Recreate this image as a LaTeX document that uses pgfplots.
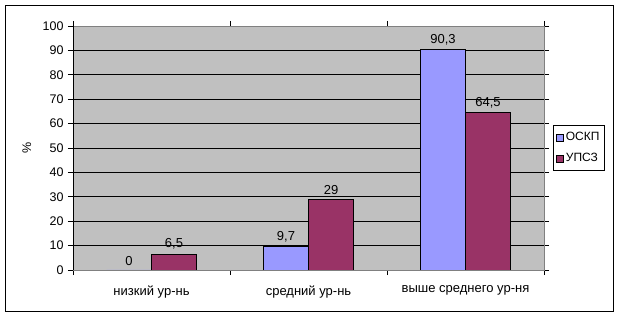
\documentclass[border=0pt]{standalone}
\usepackage{pgfplots}
\pgfplotsset{compat=1.18}
\usepackage{fontspec}
\setmainfont{Liberation Sans}
\definecolor{barblue}{HTML}{9999FF}
\definecolor{barred}{HTML}{993366}
\definecolor{plotgray}{HTML}{C0C0C0}
\begin{document}
\begin{tikzpicture}
\path (0pt,0pt) rectangle (620pt,318pt);
\draw[black, line width=1pt] (5pt,6pt) rectangle (613pt,312pt);
\begin{axis}[
  at={(73pt,48pt)}, anchor=south west,
  scale only axis, width=471pt, height=244pt,
  xmin=-0.5, xmax=2.5, ymin=0, ymax=100,
  ytick={0,10,...,100},
  xtick={0,1,2},
  xticklabels={низкий ур-нь, средний ур-нь, выше среднего ур-ня},
  minor xtick={-0.5,0.5,1.5,2.5},
  major x tick style={draw=none},
  minor x tick style={black, line width=0.8pt},
  y tick style={black, line width=0.8pt},
  tick align=outside,
  major tick length=5pt, minor tick length=5pt,
  ymajorgrids,
  grid style={black, line width=0.8pt},
  axis background/.style={fill=plotgray},
  axis line style={draw=gray, line width=0.8pt},
  ybar=0pt, bar width=45pt,
  yticklabel style={font=\fontsize{12.5}{14}\selectfont, /pgf/number format/assume math mode=true, xshift=-1pt},
  xticklabel style={font=\fontsize{13}{15}\selectfont, yshift=-7pt},
  ylabel={\%}, ylabel style={font=\fontsize{12.5}{14}\selectfont, at={(axis description cs:-0.098,0.5)}, anchor=center},
  nodes near coords={\pgfmathprintnumber[assume math mode=true, use comma]{\pgfplotspointmeta}},
  every node near coord/.append style={font=\fontsize{13}{15}\selectfont, black, yshift=1pt},
  legend style={at={(1,0.5)}, anchor=west, xshift=9pt, draw=black, line width=0.8pt,
    font=\fontsize{12}{14}\selectfont, inner xsep=3pt, inner ysep=5pt, row sep=7pt,
    cells={anchor=west}},
  legend image code/.code={\draw[#1, draw=black, line width=0.5pt] (0pt,-3.5pt) rectangle (7pt,3.5pt);},
]
\addplot[fill=barblue, draw=black, line width=0.6pt] coordinates {(0,0) (1,9.7) (2,90.3)};
\addplot[fill=barred, draw=black, line width=0.6pt] coordinates {(0,6.5) (1,29) (2,64.5)};
\legend{ОСКП, УПСЗ}
\draw[black, line width=0.8pt] (rel axis cs:0,1) -- (rel axis cs:0,0) -- (rel axis cs:1,0);
\end{axis}
\end{tikzpicture}
\end{document}
